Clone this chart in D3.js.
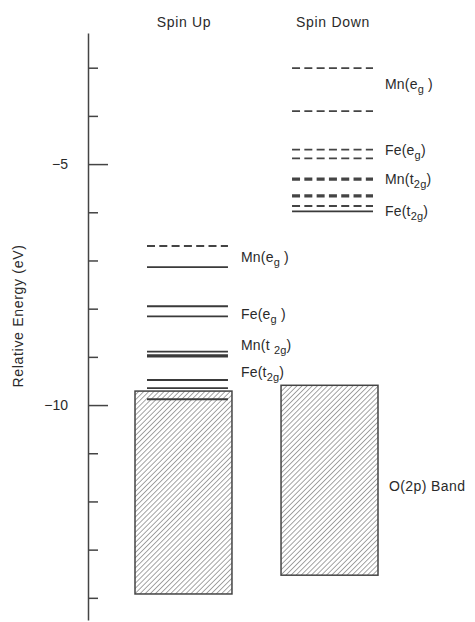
<!DOCTYPE html>
<html>
<head>
<meta charset="utf-8">
<script src="https://cdn.jsdelivr.net/npm/d3@7"></script>
<style>
  html, body { margin: 0; padding: 0; background: #fff; }
  svg { display: block; }
  text { font-family: "Liberation Sans", Arial, Helvetica, sans-serif; fill: #2a2a2a; }
</style>
</head>
<body>
<div id="chart"></div>
<script>
// ---------------- data ----------------
const columns = ["Spin Up", "Spin Down"];

// axis
const axisExtent = [-2.28, -14.46];
const minorTicks = [-3, -4, -6, -7, -8, -9, -11, -12, -13, -14];
const majorTicks = [-5, -10];
const tickLabels = ["\u22125", "\u221210"];
const yTitle = "Relative Energy (eV)";

// levels: energy (eV), occupied (solid) or empty (dashed), degeneracy (drawn heavier)
const upEnergies   = [-6.70, -7.14, -7.95, -8.16, -8.89, -8.98, -9.48, -9.65, -9.88];
const upOccupied   = [false, true,  true,  true,  true,  true,  true,  true,  true];
const upDegenerate = [1, 1, 1, 1, 1, 2, 1, 1, 1];

const downEnergies   = [-3.01, -3.90, -4.70, -4.88, -5.31, -5.66, -5.87, -5.98];
const downOccupied   = [false, false, false, false, false, false, false, true];
const downDegenerate = [1, 1, 1, 1, 2, 2, 1, 1];

// O(2p) bands: [top, bottom] in eV
const upBand   = [-9.71, -13.92];
const downBand = [-9.59, -13.53];

// level labels: [element, orbital, subscript, closing], anchor energy (baseline)
const upLabels = [
  ["Mn", "e", "g", " )"], ["Fe", "e", "g", " )"], ["Mn", "t ", "2g", ")"], ["Fe", "t", "2g", ")"]
];
const upLabelE = [-7.03, -8.22, -8.86, -9.42];
const downLabels = [
  ["Mn", "e", "g", " )"], ["Fe", "e", "g", ")"], ["Mn", "t", "2g", ")"], ["Fe", "t", "2g", ")"]
];
const downLabelE = [-3.44, -4.81, -5.41, -6.08];
const bandLabel = "O(2p) Band";
const bandLabelE = -11.78;

// ---------------- drawing ----------------
const W = 475, H = 622;
const svg = d3.select("#chart").append("svg").attr("width", W).attr("height", H);

const y = d3.scaleLinear().domain(axisExtent).range([33, 620]);
const axisX = 88;

// column bands (x scale for columns)
const x = d3.scaleBand().domain(columns).range([135, 378]).paddingInner(0.336);

// hatch pattern
const defs = svg.append("defs");
defs.append("pattern")
  .attr("id", "hatch")
  .attr("patternUnits", "userSpaceOnUse")
  .attr("width", 3.6).attr("height", 4)
  .attr("patternTransform", "rotate(45)")
  .append("line")
  .attr("x1", 0).attr("y1", 0).attr("x2", 0).attr("y2", 4)
  .attr("stroke", "#5a5a5a").attr("stroke-width", 1.1);

// axis
const gMinor = svg.append("g").attr("transform", `translate(${axisX},0)`)
  .call(d3.axisRight(y).tickValues(minorTicks).tickSize(10).tickSizeOuter(0).tickFormat(""));
gMinor.select(".domain").attr("stroke", "#444").attr("stroke-width", 1.5);
gMinor.selectAll(".tick line").attr("stroke", "#444").attr("stroke-width", 1.5);

const gMajor = svg.append("g").attr("transform", `translate(${axisX},0)`)
  .call(d3.axisRight(y).tickValues(majorTicks).tickSize(20).tickSizeOuter(0).tickFormat(""));
gMajor.select(".domain").remove();
gMajor.selectAll(".tick line").attr("stroke", "#444").attr("stroke-width", 1.5);

svg.selectAll("text.ticklab").data(majorTicks).join("text")
  .attr("class", "ticklab")
  .attr("x", 68).attr("y", d => y(d) + 5)
  .attr("text-anchor", "end")
  .style("font-size", "14px")
  .text((d, i) => tickLabels[i]);

svg.append("text")
  .attr("transform", `translate(23,${(240 + 392) / 2}) rotate(-90)`)
  .attr("text-anchor", "middle")
  .style("font-size", "14px")
  .style("letter-spacing", "0.7px")
  .text(yTitle);

// column titles
const titleX = { "Spin Up": 184, "Spin Down": 333 };
svg.selectAll("text.coltitle").data(columns).join("text")
  .attr("class", "coltitle")
  .attr("x", d => titleX[d]).attr("y", 27)
  .attr("text-anchor", "middle")
  .style("font-size", "14px")
  .style("letter-spacing", "0.7px")
  .text(d => d);

// bands
const bands = [
  { col: "Spin Up", e: upBand },
  { col: "Spin Down", e: downBand }
];
svg.selectAll("rect.band").data(bands).join("rect")
  .attr("class", "band")
  .attr("x", d => x(d.col))
  .attr("width", x.bandwidth())
  .attr("y", d => y(d.e[0]))
  .attr("height", d => y(d.e[1]) - y(d.e[0]))
  .attr("fill", "url(#hatch)")
  .attr("stroke", "#444").attr("stroke-width", 1.5);

// levels
const levels = [];
upEnergies.forEach((e, i) => levels.push({ col: "Spin Up", e, occ: upOccupied[i], deg: upDegenerate[i] }));
downEnergies.forEach((e, i) => levels.push({ col: "Spin Down", e, occ: downOccupied[i], deg: downDegenerate[i] }));

const levelInset = { "Spin Up": [12, 4], "Spin Down": [11, 5] };
svg.selectAll("line.level").data(levels).join("line")
  .attr("class", "level")
  .attr("x1", d => x(d.col) + levelInset[d.col][0])
  .attr("x2", d => x(d.col) + x.bandwidth() - levelInset[d.col][1])
  .attr("y1", d => y(d.e)).attr("y2", d => y(d.e))
  .attr("stroke", d => d.occ ? "#3a3a3a" : "#444")
  .attr("stroke-width", d => d.deg > 1 ? 3.2 : 1.8)
  .attr("stroke-dasharray", d => d.occ ? null : "8,4.3");

// labels
function drawLabels(list, energies, xPos) {
  list.forEach((lab, i) => {
    const t = svg.append("text")
      .attr("x", xPos).attr("y", y(energies[i]))
      .style("font-size", "14px")
      .style("letter-spacing", "0.2px");
    t.append("tspan").text(lab[0] + "(" + lab[1]);
    t.append("tspan").attr("dy", 4).style("font-size", "11px").text(lab[2]);
    t.append("tspan").attr("dy", -4).text(lab[3]);
  });
}
drawLabels(upLabels, upLabelE, 241);
drawLabels(downLabels, downLabelE, 385);

svg.append("text")
  .attr("x", 389).attr("y", y(bandLabelE))
  .style("font-size", "14px")
  .style("letter-spacing", "0.4px")
  .text(bandLabel);
</script>
</body>
</html>
